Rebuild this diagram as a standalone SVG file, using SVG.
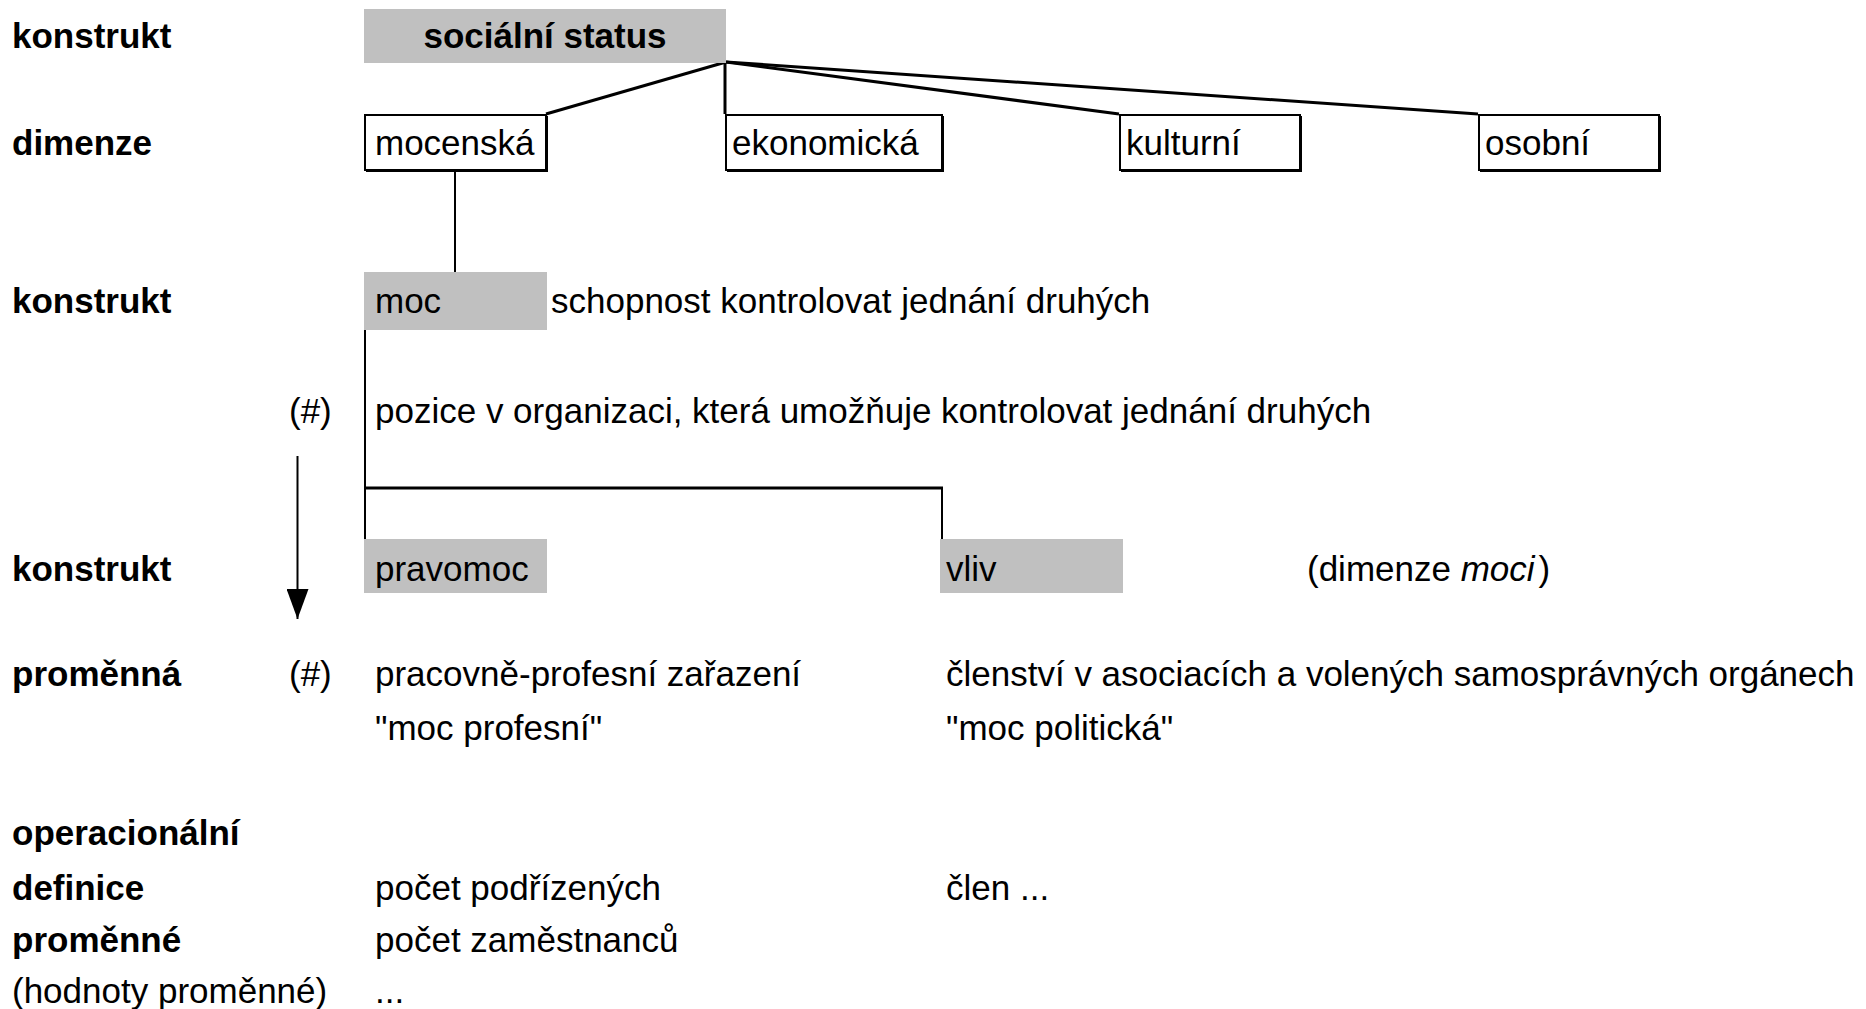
<svg xmlns="http://www.w3.org/2000/svg" width="1866" height="1009" viewBox="0 0 1866 1009">
<style>
text{font-family:"Liberation Sans",Arial,sans-serif;font-size:35px;fill:#000}
.b{font-weight:bold}
.g{fill:#c0c0c0}
.w{fill:#fff;stroke:#000;stroke-width:2}
.sh{fill:none;stroke:#000;stroke-width:2}
.c{stroke:#000;stroke-width:3;fill:none}
.t{stroke:#000;stroke-width:2;fill:none}
</style>
<defs>
<marker id="ah" viewBox="0 0 30 22" refX="30" refY="11" markerWidth="30" markerHeight="22" markerUnits="userSpaceOnUse" orient="auto">
<path d="M0,0 L30,11 L0,22 Z" fill="#000"/>
</marker>
</defs>
<rect width="1866" height="1009" fill="#fff"/>

<g id="labels">
<text class="b" x="12" y="48">konstrukt</text>
<text class="b" x="12" y="155">dimenze</text>
<text class="b" x="12" y="313">konstrukt</text>
<text x="289" y="423">(#)</text>
<text class="b" x="12" y="581">konstrukt</text>
<text class="b" x="12" y="686">proměnná</text>
<text x="289" y="686">(#)</text>
<text class="b" x="12" y="845">operacionální</text>
<text class="b" x="12" y="900">definice</text>
<text class="b" x="12" y="952">proměnné</text>
<text x="12" y="1003">(hodnoty proměnné)</text>
</g>

<g id="connectors">
<line class="c" x1="726" y1="62" x2="546" y2="114"/>
<line class="c" x1="725" y1="62" x2="725" y2="114"/>
<line class="c" x1="726" y1="62" x2="1119" y2="114"/>
<line class="c" x1="726" y1="62" x2="1478" y2="114"/>
<line class="t" x1="455" y1="171" x2="455" y2="272"/>
<line class="t" x1="365" y1="330" x2="365" y2="539"/>
<line class="c" x1="365" y1="488" x2="943" y2="488"/>
<line class="t" x1="942" y1="488" x2="942" y2="539"/>
<line class="t" x1="297.5" y1="456" x2="297.5" y2="619" marker-end="url(#ah)"/>
</g>

<g id="n-socialni-status">
<rect class="g" x="364" y="9" width="362" height="54"/>
<text class="b" x="545" y="48" text-anchor="middle">sociální status</text>
</g>
<g id="n-mocenska">
<rect class="w" x="365" y="115" width="181" height="55"/>
<polyline class="sh" points="366,171 547,171 547,116"/>
<text x="375" y="155">mocenská</text>
</g>
<g id="n-ekonomicka">
<rect class="w" x="726" y="115" width="216" height="55"/>
<polyline class="sh" points="727,171 943,171 943,116"/>
<text x="732" y="155">ekonomická</text>
</g>
<g id="n-kulturni">
<rect class="w" x="1120" y="115" width="180" height="55"/>
<polyline class="sh" points="1121,171 1301,171 1301,116"/>
<text x="1126" y="155">kulturní</text>
</g>
<g id="n-osobni">
<rect class="w" x="1479" y="115" width="180" height="55"/>
<polyline class="sh" points="1480,171 1660,171 1660,116"/>
<text x="1485" y="155">osobní</text>
</g>
<g id="n-moc">
<rect class="g" x="364" y="272" width="183" height="58"/>
<text x="375" y="313">moc</text>
<text x="551" y="313">schopnost kontrolovat jednání druhých</text>
</g>
<g id="n-pozice">
<text x="375" y="423">pozice v organizaci, která umožňuje kontrolovat jednání druhých</text>
</g>
<g id="n-pravomoc">
<rect class="g" x="364" y="539" width="183" height="54"/>
<text x="375" y="581">pravomoc</text>
</g>
<g id="n-vliv">
<rect class="g" x="940" y="539" width="183" height="54"/>
<text x="946" y="581">vliv</text>
</g>
<g id="n-dimenze-moci">
<text x="1307" y="581">(dimenze <tspan font-style="italic">moci</tspan><tspan dx="4">)</tspan></text>
</g>
<g id="n-pravomoc-var">
<text x="375" y="686">pracovně-profesní zařazení</text>
<text x="375" y="740">"moc profesní"</text>
<text x="375" y="900">počet podřízených</text>
<text x="375" y="952">počet zaměstnanců</text>
<text x="375" y="1003">...</text>
</g>
<g id="n-vliv-var">
<text x="946" y="686">členství v asociacích a volených samosprávných orgánech</text>
<text x="946" y="740">"moc politická"</text>
<text x="946" y="900">člen ...</text>
</g>
</svg>
